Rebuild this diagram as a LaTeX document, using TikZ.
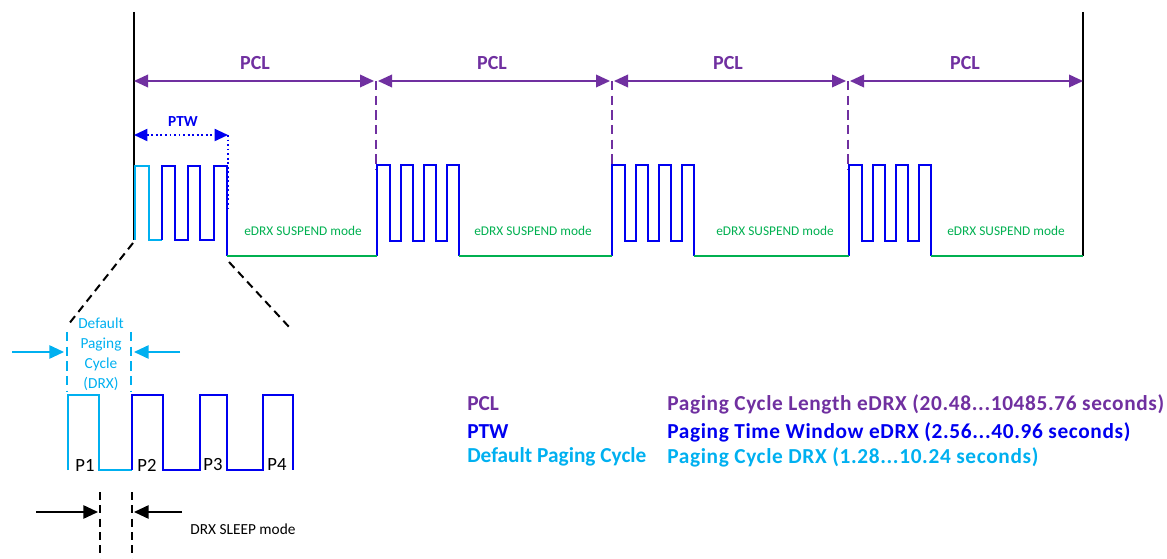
\documentclass[tikz,border=0pt]{standalone}
\usepackage{fontspec}
\setmainfont{Carlito}
\newfontfamily\widefont{Carlito}[LetterSpace=3]
\usetikzlibrary{arrows.meta}

\definecolor{pclcol}{RGB}{112,48,160}
\definecolor{ptwcol}{RGB}{0,0,240}
\definecolor{drxcol}{RGB}{0,176,240}
\definecolor{suscol}{RGB}{0,176,80}

\tikzset{
  pclarrow/.style={draw=pclcol, line width=1.1pt,
    {Triangle[length=10.5pt,width=9.5pt]}-{Triangle[length=10.5pt,width=9.5pt]}},
  ptwarrow/.style={draw=ptwcol, line width=1.4pt, dotted,
    {Triangle[length=10pt,width=9pt,fill=ptwcol]}-{Triangle[length=10pt,width=9pt,fill=ptwcol]}},
  pcldash/.style={draw=pclcol, line width=1.5pt, dash pattern=on 7pt off 4pt},
  wave/.style={draw=ptwcol, line width=1.6pt},
  drxwave/.style={draw=drxcol, line width=1.6pt},
  suspend/.style={draw=suscol, line width=1.6pt},
  zoomline/.style={draw=black, line width=1.5pt, dash pattern=on 6pt off 4pt},
  drxdash/.style={draw=drxcol, line width=2pt, dash pattern=on 7pt off 4pt},
  sleepdash/.style={draw=black, line width=1.3pt, dash pattern=on 6pt off 4pt},
  drxarrow/.style={draw=drxcol, line width=1.3pt, -{Triangle[length=11pt,width=10pt]}},
  sleeparrow/.style={draw=black, line width=1.3pt, -{Triangle[length=11pt,width=10pt]}},
  pcllabel/.style={text=pclcol, font=\fontsize{15}{18}\selectfont\bfseries, inner sep=0pt},
  ptwlabel/.style={text=ptwcol, font=\fontsize{11.5}{14}\selectfont\bfseries, inner sep=0pt},
  suslabel/.style={text=suscol, font=\fontsize{10}{12}\selectfont, inner sep=0pt},
  pagelabel/.style={font=\fontsize{14}{17}\selectfont, inner sep=0pt},
  legend/.style={font=\fontsize{16}{19}\selectfont\bfseries, inner sep=0pt, anchor=west},
  legendtext/.style={font=\fontsize{16}{19}\selectfont\widefont\bfseries, inner sep=0pt, anchor=west}
}

\begin{document}
\begin{tikzpicture}[x=0.75pt,y=-0.75pt]
\useasboundingbox (0,0) rectangle (1167,559);

% Cycle boundaries
\coordinate (t0) at (134,81);
\coordinate (t1) at (376,81);
\coordinate (t2) at (612,81);
\coordinate (t3) at (848,81);
\coordinate (t4) at (1083,81);

% Outer black lines
\draw[line width=1.6pt] (134,12) -- (134,240);
\draw[line width=1.6pt] (1083,12) -- (1083,256);

% PCL arrows
\draw[pclarrow, shorten >=1.5pt] (t0) -- (t1);
\draw[pclarrow, shorten <=1.5pt, shorten >=1.5pt] (t1) -- (t2);
\draw[pclarrow, shorten <=1.5pt, shorten >=1.5pt] (t2) -- (t3);
\draw[pclarrow, shorten <=1.5pt] (t3) -- (t4);
\node[pcllabel] (pcl1) at (255,63) {PCL};
\node[pcllabel] (pcl2) at (492,63) {PCL};
\node[pcllabel] (pcl3) at (728,63) {PCL};
\node[pcllabel] (pcl4) at (965,63) {PCL};

% Dashed cycle starts
\draw[pcldash] (t1) -- (376,170);
\draw[pcldash] (t2) -- (612,170);
\draw[pcldash] (t3) -- (848,170);

% PTW
\coordinate (ptwa) at (134,135);
\coordinate (ptwb) at (228,135);
\draw[ptwarrow] (ptwa) -- (ptwb);
\draw[draw=ptwcol, line width=1.4pt, dotted] (ptwb) -- (228,208);
\node[ptwlabel] (ptw) at (183,122) {PTW};

% First paging window
\draw[drxwave] (135,240) -- (135,166) -- (149,166) -- (149,240) -- (162,240);
\draw[wave] (162,240) -- (162,166) -- (175,166) -- (175,240) -- (188,240) -- (188,166)
  -- (200,166) -- (200,240) -- (214,240) -- (214,166) -- (227,166) -- (227,256);

% Next paging windows
\foreach \s in {377,612,849}
  \draw[wave] (\s,256) -- (\s,165) -- ++(13,0) -- ++(0,76) -- ++(11,0) -- ++(0,-76)
    -- ++(12,0) -- ++(0,76) -- ++(11,0) -- ++(0,-76) -- ++(12,0) -- ++(0,76)
    -- ++(11,0) -- ++(0,-76) -- ++(12,0) -- ++(0,91);

% Suspend periods
\draw[suspend] (227,256) -- (377,256);
\draw[suspend] (459,256) -- (612,256);
\draw[suspend] (694,256) -- (849,256);
\draw[suspend] (931,256) -- (1083,256);
\node[suslabel] (sus1) at (303,231) {eDRX SUSPEND mode};
\node[suslabel] (sus2) at (533,231) {eDRX SUSPEND mode};
\node[suslabel] (sus3) at (775,231) {eDRX SUSPEND mode};
\node[suslabel] (sus4) at (1006,231) {eDRX SUSPEND mode};

% Zoom lines
\draw[zoomline] (133,243) -- (68,325);
\draw[zoomline] (229,262) -- (290,328);

% Default paging cycle
\draw[drxdash] (67,332) -- (67,392);
\draw[drxdash] (131,332) -- (131,392);
\draw[drxarrow] (12,352) -- (64,352);
\draw[drxarrow] (180,352) -- (134,352);
\node[text=drxcol, align=center, inner sep=0pt,
  font=\fontsize{11.5}{15}\selectfont] (dpc) at (101,354)
  {Default\\Paging\\Cycle\\(DRX)};

% Zoomed paging occasions
\draw[drxwave] (68,470) -- (68,395) -- (99,395) -- (99,470) -- (132,470);
\draw[wave] (132,470) -- (132,395) -- (163,395) -- (163,470) -- (200,470) -- (200,395)
  -- (227,395) -- (227,470) -- (263,470) -- (263,395) -- (293,395) -- (293,470);
\node[pagelabel] (p1) at (85,465) {P1};
\node[pagelabel] (p2) at (147,465) {P2};
\node[pagelabel] (p3) at (213,465) {P3};
\node[pagelabel] (p4) at (277,465) {P4};

% DRX sleep
\draw[sleepdash] (100,492) -- (100,559);
\draw[sleepdash] (132,492) -- (132,559);
\draw[sleeparrow] (36,512) -- (98,512);
\draw[sleeparrow] (182,512) -- (134,512);
\node[font=\fontsize{11.5}{14}\selectfont, inner sep=0pt] (sleep) at (243,529) {DRX SLEEP mode};

% Legend
\node[legend, text=pclcol] (k1) at (467,404) {PCL};
\node[legend, text=ptwcol] (k2) at (467,432) {PTW};
\node[legend, text=drxcol] (k3) at (467,457) {Default Paging Cycle};
\node[legendtext, text=pclcol] (v1) at (667,404) {Paging Cycle Length eDRX (20.48...10485.76 seconds)};
\node[legendtext, text=ptwcol] (v2) at (667,432) {Paging Time Window eDRX (2.56...40.96 seconds)};
\node[legendtext, text=drxcol] (v3) at (667,457) {Paging Cycle DRX (1.28...10.24 seconds)};
\end{tikzpicture}
\end{document}
